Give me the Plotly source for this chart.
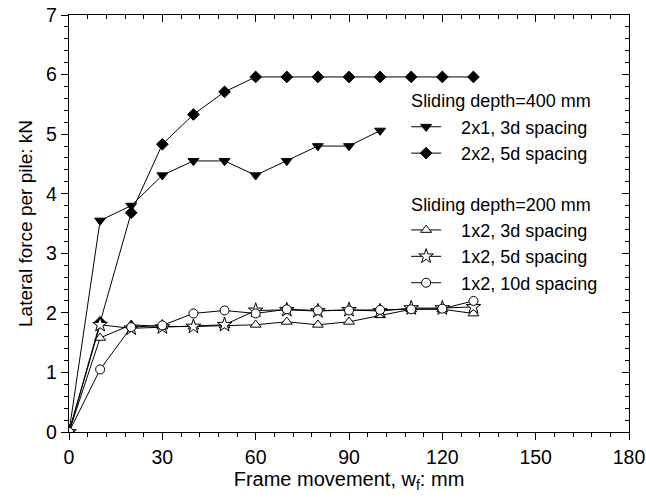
import plotly.graph_objects as go

x_full = [0, 10, 20, 30, 40, 50, 60, 70, 80, 90, 100, 110, 120, 130]
x_2x1 = [0, 10, 20, 30, 40, 50, 60, 70, 80, 90, 100]

y_2x1_3d = [0, 3.55, 3.80, 4.31, 4.55, 4.55, 4.31, 4.55, 4.80, 4.80, 5.06]
y_2x2_5d = [0, 1.84, 3.68, 4.83, 5.33, 5.71, 5.96, 5.96, 5.96, 5.96, 5.96, 5.96, 5.96, 5.96]
y_1x2_3d = [0, 1.58, 1.80, 1.77, 1.77, 1.79, 1.80, 1.85, 1.80, 1.85, 1.96, 2.06, 2.06, 1.99]
y_1x2_5d = [0, 1.80, 1.74, 1.76, 1.77, 1.80, 2.04, 2.05, 2.03, 2.05, 2.03, 2.08, 2.08, 2.10]
y_1x2_10d = [0, 1.05, 1.76, 1.79, 1.99, 2.04, 1.99, 2.06, 2.04, 2.04, 2.05, 2.06, 2.07, 2.20]

names = ["2x1, 3d spacing", "2x2, 5d spacing", "1x2, 3d spacing",
         "1x2, 5d spacing", "1x2, 10d spacing"]
group_titles = ["Sliding depth=400 mm", "Sliding depth=200 mm"]

FONT = "Liberation Sans, Arial, sans-serif"
PAD = "\u00a0\u00a0\u00a0"

fig = go.Figure()

def add(xv, yv, name, symbol, fill, size, group, gtitle):
    kw = {}
    if gtitle:
        kw["legendgrouptitle"] = dict(text=gtitle, font=dict(size=18, family=FONT, color="black"))
    fig.add_trace(go.Scatter(
        x=xv, y=yv, mode="lines+markers", name=PAD + name,
        line=dict(color="black", width=1),
        marker=dict(symbol=symbol, size=size, color=fill,
                    line=dict(color="black", width=1)),
        legendgroup=group, **kw,
    ))

add(x_2x1, y_2x1_3d, names[0], "triangle-down", "black", 9.5, "g400", group_titles[0])
add(x_full, y_2x2_5d, names[1], "diamond", "black", 9, "g400", None)
add(x_full, y_1x2_3d, names[2], "triangle-up", "white", 9.5, "g200", group_titles[1])
add(x_full, y_1x2_5d, names[3], "star", "white", 11, "g200", None)
add(x_full, y_1x2_10d, names[4], "circle", "white", 9, "g200", None)

# invisible helper trace so the mirrored (top/right) axes get drawn
fig.add_trace(go.Scatter(x=[0], y=[0], xaxis="x2", yaxis="y2", mode="markers",
                         marker=dict(size=1, color="rgba(0,0,0,0)"),
                         showlegend=False, hoverinfo="skip"))

axis_common = dict(color="black", linecolor="black", linewidth=1.3,
                   showgrid=False, zeroline=False, tickcolor="black",
                   tickwidth=1.3, automargin=False)

fig.update_layout(
    width=646, height=502,
    margin=dict(l=69, r=17, t=15, b=70),
    paper_bgcolor="white", plot_bgcolor="white",
    font=dict(family=FONT, size=18, color="black"),
    showlegend=True,
    legend=dict(x=0.602, y=0.839, xanchor="left", yanchor="top",
                bgcolor="rgba(0,0,0,0)", borderwidth=0,
                font=dict(size=18, family=FONT, color="black"),
                tracegroupgap=24, itemwidth=30),
    xaxis=dict(range=[0, 180], tick0=0, dtick=30, ticks="outside", ticklen=7,
               showline=True, mirror=True, ticklabeloverflow="allow",
               minor=dict(dtick=6, tick0=0, ticks="outside", ticklen=4,
                          tickcolor="black", tickwidth=1.3),
               title=dict(text="Frame movement, w<sub>f</sub>: mm",
                          font=dict(size=20), standoff=4),
               tickfont=dict(size=19.5), **axis_common),
    yaxis=dict(range=[0, 7], tick0=0, dtick=1, ticks="outside", ticklen=7,
               showline=True, mirror=True, ticklabeloverflow="allow",
               minor=dict(dtick=0.2, tick0=0, ticks="outside", ticklen=4,
                          tickcolor="black", tickwidth=1.3),
               title=dict(text="Lateral force per pile: kN",
                          font=dict(size=19), standoff=8),
               tickfont=dict(size=19.5), **axis_common),
    xaxis2=dict(range=[0, 180], overlaying="x", side="top", anchor="y2",
                tick0=0, dtick=30, ticks="inside", ticklen=7,
                showticklabels=False, showline=False,
                minor=dict(dtick=6, tick0=0, ticks="inside", ticklen=4,
                           tickcolor="black", tickwidth=1.3),
                **axis_common),
    yaxis2=dict(range=[0, 7], overlaying="y", side="right", anchor="x2",
                tick0=0, dtick=1, ticks="inside", ticklen=7,
                showticklabels=False, showline=False,
                minor=dict(dtick=0.2, tick0=0, ticks="inside", ticklen=4,
                           tickcolor="black", tickwidth=1.3),
                **axis_common),
)

fig.write_html("out.html", config={"displayModeBar": False},
               post_script="document.body.style.margin='0';document.body.style.padding='0';")
